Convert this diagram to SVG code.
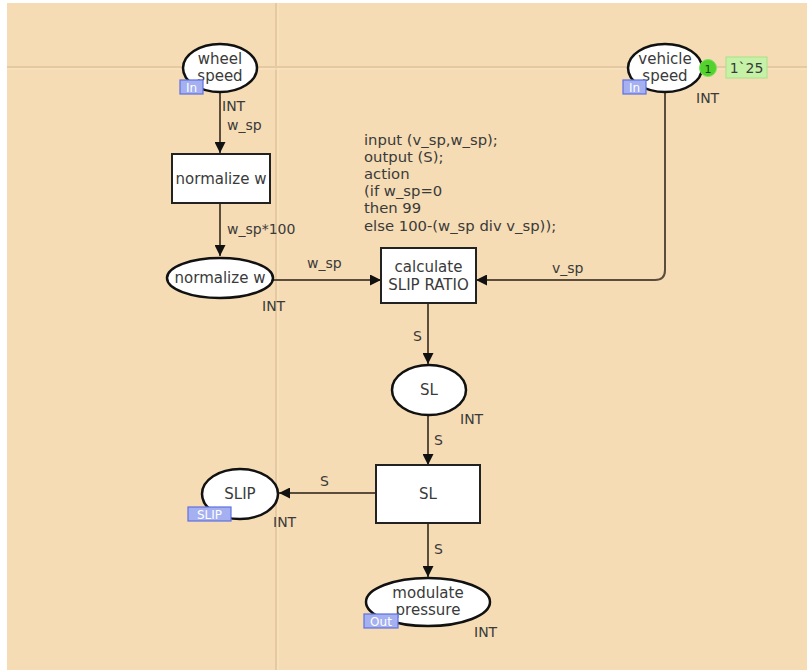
<svg xmlns="http://www.w3.org/2000/svg" width="807" height="670" viewBox="0 0 807 670">
  <style>
    .place ellipse { fill: #ffffff; stroke: #111111; stroke-width: 2.5; }
    .trans rect { fill: #ffffff; stroke: #222222; stroke-width: 2; }
    .lbl { font-family: "DejaVu Sans", Verdana, sans-serif; font-size: 14px; fill: #3a3a3a; }
    .name { font-family: "DejaVu Sans", Verdana, sans-serif; font-size: 15px; fill: #3a3a3a; text-anchor: middle; }
    .code { font-family: "DejaVu Sans", Verdana, sans-serif; font-size: 14.8px; fill: #3a3a3a; }
    .arc { fill: none; stroke: #5b4c3c; stroke-width: 2; marker-end: url(#head); }
    .tag rect { fill: #a4b0f0; stroke: #5f70e0; stroke-width: 1.2; }
    .tag text { font-family: "DejaVu Sans", Verdana, sans-serif; font-size: 12px; fill: #ffffff; text-anchor: middle; }
  </style>
  <defs>
    <marker id="head" viewBox="0 0 10 10" refX="10" refY="5" markerWidth="11" markerHeight="11" markerUnits="userSpaceOnUse" orient="auto">
      <path d="M0,0 L10,5 L0,10 Z" fill="#111111"/>
    </marker>
  </defs>

  <!-- canvas -->
  <rect x="0" y="0" width="807" height="670" fill="#ffffff"/>
  <rect x="7" y="3" width="800" height="667" fill="#f5dcb4"/>
  <!-- page grid -->
  <line x1="276" y1="3" x2="276" y2="670" stroke="#e6c9a0" stroke-width="2"/>
  <line x1="278" y1="3" x2="278" y2="670" stroke="#f9e6c6" stroke-width="1"/>
  <line x1="7" y1="67" x2="807" y2="67" stroke="#e6c9a0" stroke-width="2"/>
  <line x1="7" y1="69" x2="807" y2="69" stroke="#f9e6c6" stroke-width="1"/>

  <!-- connectors -->
  <g id="arcs">
    <path class="arc" d="M220,92 L220,153"/>
    <text class="lbl" x="227" y="130">w_sp</text>
    <path class="arc" d="M220,203 L220,256"/>
    <text class="lbl" x="227" y="234">w_sp*100</text>
    <path class="arc" d="M273,280 L381,280"/>
    <text class="lbl" x="307" y="268">w_sp</text>
    <path class="arc" d="M665,92 L665,270 Q665,280 655,280 L476,280"/>
    <text class="lbl" x="552" y="273">v_sp</text>
    <path class="arc" d="M428,303 L428,364"/>
    <text class="lbl" x="413" y="341">S</text>
    <path class="arc" d="M428,415 L428,465"/>
    <text class="lbl" x="434" y="445">S</text>
    <path class="arc" d="M376,493 L279,493"/>
    <text class="lbl" x="320" y="486">S</text>
    <path class="arc" d="M428,523 L428,577"/>
    <text class="lbl" x="434" y="554">S</text>
  </g>

  <!-- places -->
  <g id="p-wheel-speed" class="place">
    <ellipse cx="220" cy="68" rx="37" ry="24"/>
    <text class="name" x="220" y="64">wheel</text>
    <text class="name" x="220" y="81">speed</text>
    <g class="tag"><rect x="180" y="80" width="23" height="14"/><text x="191.5" y="91.5">In</text></g>
    <text class="lbl" x="222" y="111">INT</text>
  </g>

  <g id="p-vehicle-speed" class="place">
    <ellipse cx="665" cy="68" rx="37" ry="24"/>
    <text class="name" x="665" y="64">vehicle</text>
    <text class="name" x="665" y="81">speed</text>
    <g class="tag"><rect x="623" y="80" width="23" height="14"/><text x="634.5" y="91.5">In</text></g>
    <circle cx="708" cy="68" r="8.5" fill="#52d22c" stroke="#7fe060" stroke-width="1"/>
    <text x="708" y="72.5" font-family="DejaVu Sans, sans-serif" font-size="11px" fill="#1a3a10" text-anchor="middle">1</text>
    <rect x="726" y="57" width="41" height="21" fill="#c6f2a8" stroke="#a8e08a" stroke-width="1"/>
    <text class="lbl" x="746.5" y="73" text-anchor="middle">1`25</text>
    <text class="lbl" x="696" y="103">INT</text>
  </g>

  <g id="p-normalize-w" class="place">
    <ellipse cx="220" cy="278" rx="53" ry="20"/>
    <text class="name" x="220" y="283">normalize w</text>
    <text class="lbl" x="262" y="311">INT</text>
  </g>

  <g id="p-sl" class="place">
    <ellipse cx="429" cy="390" rx="37" ry="25"/>
    <text class="name" x="429" y="395">SL</text>
    <text class="lbl" x="460" y="424">INT</text>
  </g>

  <g id="p-slip" class="place">
    <ellipse cx="240" cy="494" rx="38" ry="25"/>
    <text class="name" x="240" y="499">SLIP</text>
    <g class="tag"><rect x="188" y="507" width="43" height="14"/><text x="209.5" y="518.5">SLIP</text></g>
    <text class="lbl" x="273" y="527">INT</text>
  </g>

  <g id="p-modulate-pressure" class="place">
    <ellipse cx="428" cy="602" rx="62" ry="24"/>
    <text class="name" x="428" y="598">modulate</text>
    <text class="name" x="428" y="615">pressure</text>
    <g class="tag"><rect x="364" y="614" width="34" height="14"/><text x="381" y="625.5">Out</text></g>
    <text class="lbl" x="474" y="637">INT</text>
  </g>

  <!-- transitions -->
  <g id="t-normalize-w" class="trans">
    <rect x="172" y="154" width="98" height="49"/>
    <text class="name" x="221" y="184">normalize w</text>
  </g>

  <g id="t-calculate" class="trans">
    <rect x="381" y="248" width="95" height="55"/>
    <text class="name" x="428.5" y="272">calculate</text>
    <text class="name" x="428.5" y="290">SLIP RATIO</text>
    <text class="code" x="364" y="145">input (v_sp,w_sp);</text>
    <text class="code" x="364" y="162">output (S);</text>
    <text class="code" x="364" y="179">action</text>
    <text class="code" x="364" y="196">(if w_sp=0</text>
    <text class="code" x="364" y="213">then 99</text>
    <text class="code" x="364" y="231">else 100-(w_sp div v_sp));</text>
  </g>

  <g id="t-sl" class="trans">
    <rect x="376" y="465" width="104" height="58"/>
    <text class="name" x="428" y="499">SL</text>
  </g>
</svg>
